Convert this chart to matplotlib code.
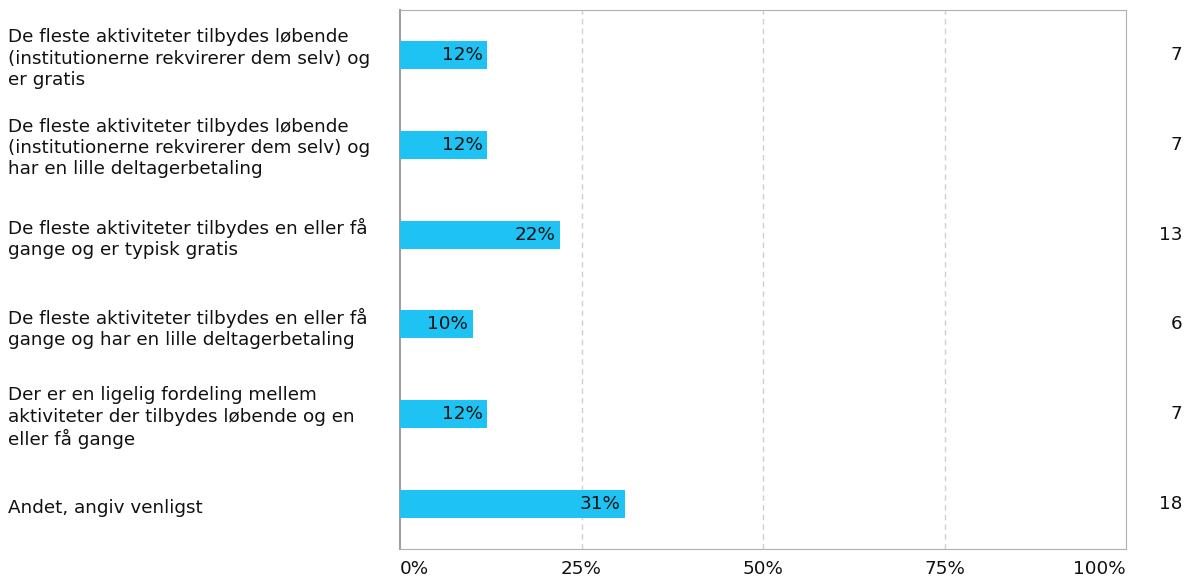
import matplotlib.pyplot as plt

categories = [
    "De fleste aktiviteter tilbydes løbende\n(institutionerne rekvirerer dem selv) og\ner gratis",
    "De fleste aktiviteter tilbydes løbende\n(institutionerne rekvirerer dem selv) og\nhar en lille deltagerbetaling",
    "De fleste aktiviteter tilbydes en eller få\ngange og er typisk gratis",
    "De fleste aktiviteter tilbydes en eller få\ngange og har en lille deltagerbetaling",
    "Der er en ligelig fordeling mellem\naktiviteter der tilbydes løbende og en\neller få gange",
    "Andet, angiv venligst",
]
counts = [7, 7, 13, 6, 7, 18]
percent = [12, 12, 22, 10, 12, 31]
tick_labels = ["0%", "25%", "50%", "75%", "100%"]

FS = 13.2
plt.rcParams["font.family"] = ["DejaVu Sans"]
fig = plt.figure(figsize=(11.94, 5.81), dpi=100)
ax = fig.add_axes([400 / 1194, 32 / 581, 726 / 1194, 539 / 581])

ypos = list(range(len(categories)))
ax.barh(ypos, [p / 100 for p in percent], height=0.31, color="#1FC3F3", zorder=3)
ax.set_ylim(len(categories) - 0.5, -0.5)
ax.set_xlim(0, 1)

for y, p, c in zip(ypos, percent, counts):
    ax.text(p / 100 - 0.006, y, f"{p}%", ha="right", va="center", fontsize=FS, color="#111111", zorder=4)
    ax.text(1.078, y, str(c), ha="right", va="center", fontsize=FS, color="#111111",
            transform=ax.get_yaxis_transform())

for y, lab in zip(ypos, categories):
    ax.text(-0.540, y + 0.04, lab, ha="left", va="center", fontsize=FS, color="#111111",
            linespacing=1.22, transform=ax.get_yaxis_transform())

ax.set_yticks([])
ticks = [0, 0.25, 0.5, 0.75, 1.0]
ax.set_xticks(ticks)
ax.set_xticklabels(tick_labels, fontsize=FS, color="#111111")
aligns = ["left", "center", "center", "center", "right"]
for lbl, a in zip(ax.get_xticklabels(), aligns):
    lbl.set_horizontalalignment(a)
ax.tick_params(axis="x", length=0, pad=8)
for t in ticks[1:-1]:
    ax.axvline(t, color="#D0D0D0", linestyle=(0, (4, 3)), linewidth=1, zorder=1)

for side in ["top", "right", "bottom"]:
    ax.spines[side].set_color("#B0B0B0")
ax.spines["left"].set_color("#A0A0A0")
ax.spines["left"].set_linewidth(1.5)

fig.savefig("out.png", dpi=100)
